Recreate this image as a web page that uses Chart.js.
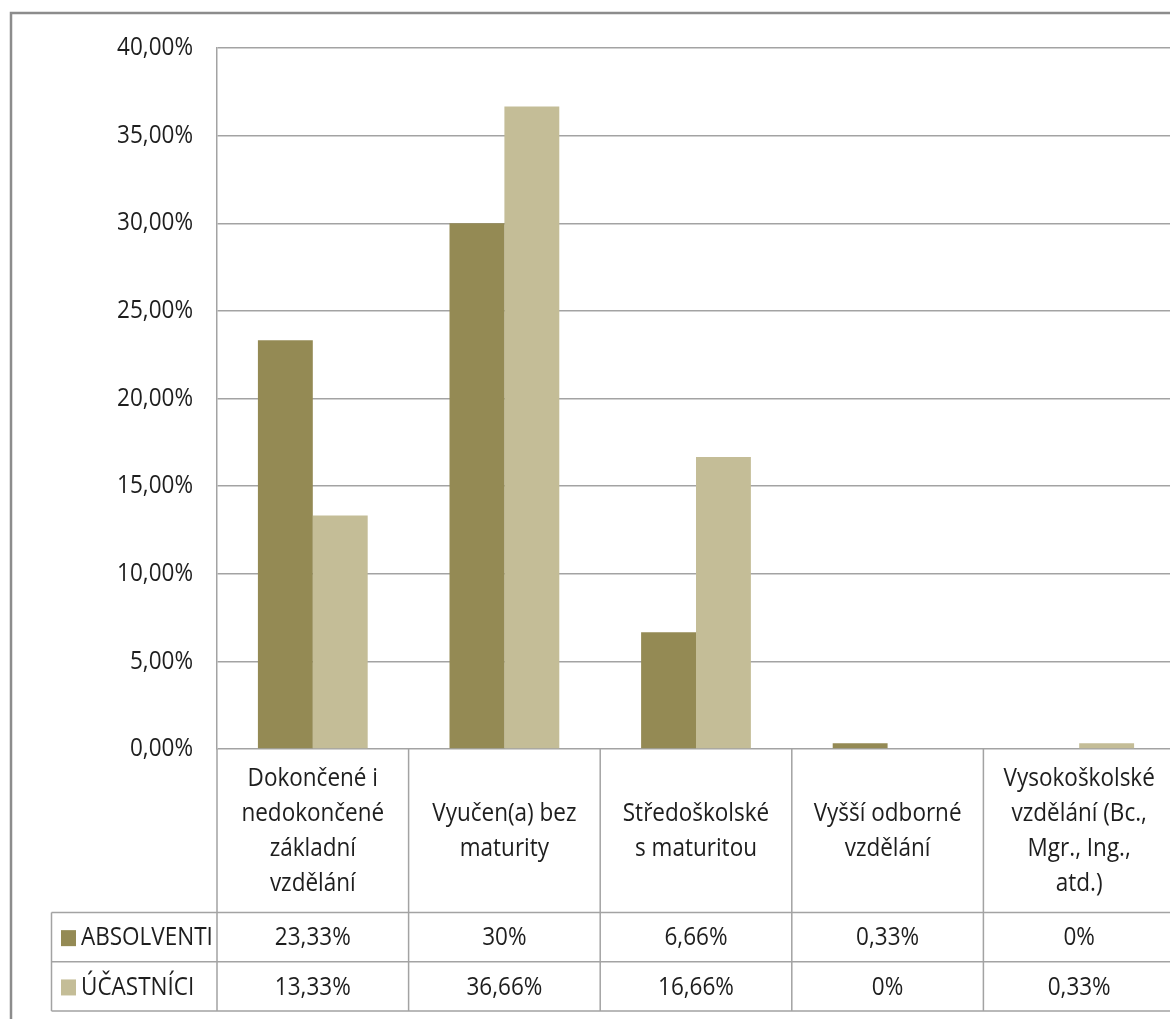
<!DOCTYPE html>
<html lang="cs">
<head>
<meta charset="utf-8">
<script src="https://cdn.jsdelivr.net/npm/chart.js@4"></script>
<style>
  html, body { margin: 0; padding: 0; background: #fff; overflow: hidden; }
  #wrap { position: relative; width: 1180px; height: 1019px; }
</style>
</head>
<body>
<div id="wrap"><canvas id="vzdelani"></canvas></div>
<script>
const categories = [
  ['Dokončené i', 'nedokončené', 'základní', 'vzdělání'],
  ['Vyučen(a) bez', 'maturity'],
  ['Středoškolské', 's maturitou'],
  ['Vyšší odborné', 'vzdělání'],
  ['Vysokoškolské', 'vzdělání (Bc.,', 'Mgr., Ing.,', 'atd.)']
];
const absolventi = [23.33, 30, 6.66, 0.33, 0];
const ucastnici = [13.33, 36.66, 16.66, 0, 0.33];
const yTicks = [0, 5, 10, 15, 20, 25, 30, 35, 40];

const FONT = "'Open Sans', sans-serif";
const FONT_SIZE = 25;
const SQUEEZE = 0.9; // narrow the glyphs a little
const GRID = '#a3a3a3';
const TEXT = '#1e1e1e';

const fmtTick = (v) => v.toFixed(2).replace('.', ',') + '%';
const fmtCell = (v) => (Number.isInteger(v) ? String(v) : v.toFixed(2).replace('.', ',')) + '%';

function narrowText(ctx, text, x, y, align) {
  ctx.save();
  ctx.translate(x, y);
  ctx.scale(SQUEEZE, 1);
  ctx.textAlign = align;
  ctx.textBaseline = 'middle';
  ctx.fillText(text, 0, 0);
  ctx.restore();
}

// top-left frame of the chart object
const frame = {
  id: 'frame',
  beforeDraw(chart) {
    const ctx = chart.ctx;
    ctx.save();
    ctx.strokeStyle = '#8c8c8c';
    ctx.lineWidth = 2.5;
    ctx.beginPath();
    ctx.moveTo(11, chart.height);
    ctx.lineTo(11, 13);
    ctx.lineTo(chart.width, 13);
    ctx.stroke();
    ctx.restore();
  }
};

// y tick labels, placed from the y scale
const yLabels = {
  id: 'yLabels',
  afterDraw(chart) {
    const ctx = chart.ctx;
    const ys = chart.scales.y;
    ctx.save();
    ctx.fillStyle = TEXT;
    ctx.font = FONT_SIZE + 'px ' + FONT;
    ys.ticks.forEach((t) => narrowText(ctx, fmtTick(t.value), 193, ys.getPixelForValue(t.value), 'right'));
    ctx.restore();
  }
};

// data table under the plot, columns follow the x scale
const dataTable = {
  id: 'dataTable',
  afterDraw(chart) {
    const ctx = chart.ctx;
    const area = chart.chartArea;
    const xs = chart.scales.x;
    const colW = (area.right - area.left) / categories.length;
    const headTop = area.bottom;
    const headBottom = 912.5;
    const rowH = 49.3;
    const legendLeft = 51.5;
    const rows = chart.data.datasets;
    const tableBottom = headBottom + rowH * rows.length;

    ctx.save();
    ctx.strokeStyle = GRID;
    ctx.lineWidth = 1.5;
    ctx.beginPath();
    for (let i = 0; i <= categories.length; i++) {
      const x = area.left + i * colW;
      ctx.moveTo(x, headTop);
      ctx.lineTo(x, tableBottom);
    }
    ctx.moveTo(legendLeft, headBottom);
    ctx.lineTo(legendLeft, tableBottom);
    for (let r = 0; r <= rows.length; r++) {
      const y = headBottom + r * rowH;
      ctx.moveTo(legendLeft, y);
      ctx.lineTo(chart.width, y);
    }
    ctx.stroke();

    ctx.fillStyle = TEXT;
    ctx.font = FONT_SIZE + 'px ' + FONT;
    const lineH = 35;
    categories.forEach((lines, i) => {
      const cx = xs.getPixelForValue(i);
      const mid = (headTop + headBottom) / 2 + 1;
      const y0 = mid - (lines.length - 1) * lineH / 2;
      lines.forEach((t, k) => narrowText(ctx, t, cx, y0 + k * lineH, 'center'));
    });

    rows.forEach((ds, r) => {
      const cy = headBottom + r * rowH + rowH / 2 + 1;
      ctx.fillStyle = ds.backgroundColor;
      ctx.fillRect(61, cy - 8, 15, 16);
      ctx.fillStyle = TEXT;
      narrowText(ctx, ds.label, 81, cy, 'left');
      ds.data.forEach((v, i) => narrowText(ctx, fmtCell(v), xs.getPixelForValue(i), cy, 'center'));
    });
    ctx.restore();
  }
};

new Chart(document.getElementById('vzdelani'), {
  type: 'bar',
  data: {
    labels: categories,
    datasets: [
      { label: 'ABSOLVENTI', data: absolventi, backgroundColor: '#948a54' },
      { label: 'ÚČASTNÍCI', data: ucastnici, backgroundColor: '#c4bd97' }
    ]
  },
  options: {
    responsive: true,
    maintainAspectRatio: false,
    animation: false,
    layout: { padding: { top: 48, right: 5, bottom: 270, left: 0 } },
    datasets: {
      bar: { categoryPercentage: 0.573, barPercentage: 1.0 }
    },
    plugins: {
      legend: { display: false },
      tooltip: { enabled: false }
    },
    scales: {
      x: { display: false },
      y: {
        min: 0,
        max: 40,
        afterFit: (axis) => { axis.width = 217; },
        afterBuildTicks: (axis) => { axis.ticks = yTicks.map((v) => ({ value: v })); },
        grid: { color: GRID, lineWidth: 1.5, drawTicks: false },
        border: { color: GRID, width: 1.5 },
        ticks: { display: false }
      }
    }
  },
  plugins: [frame, yLabels, dataTable]
});
</script>
</body>
</html>
